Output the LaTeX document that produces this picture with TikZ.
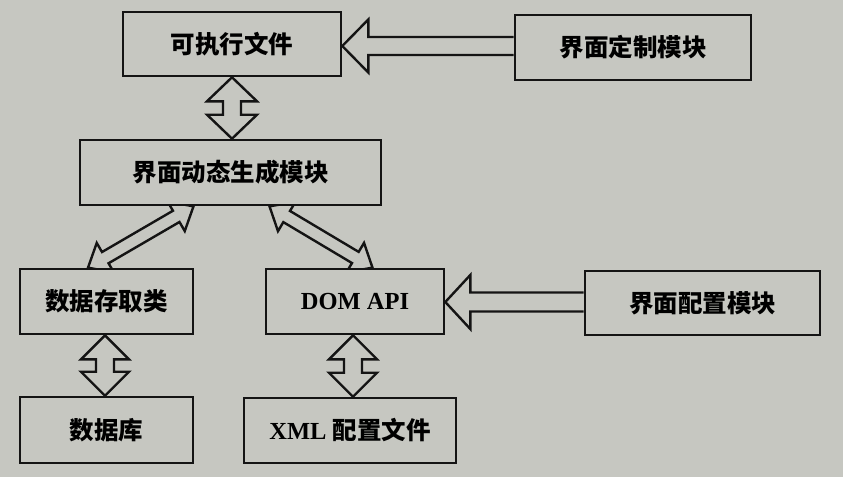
\documentclass[tikz,border=0pt]{standalone}
\usepackage{fontspec}
\setmainfont{Liberation Serif}
\newfontfamily\cjk{Noto Sans CJK SC}
\usetikzlibrary{calc}
\definecolor{bg}{RGB}{198,199,193}
\definecolor{ink}{RGB}{20,20,20}
\pgfdeclarelayer{bottom}
\pgfdeclarelayer{arrows}
\pgfsetlayers{bottom,arrows,main}

% double fat arrow: from #1 to #2, shaft half width #3, head half width #4, head length #5
\newcommand\fatdouble[5]{%
  \draw[fatarrow] let \p1=(#1), \p2=(#2),
     \n1={atan2(\y2-\y1,\x2-\x1)}, \n2={veclen(\x2-\x1,\y2-\y1)} in
     (\p1)
     -- ($(\p1)+(\n1:#5pt)+(\n1+90:#4pt)$)
     -- ($(\p1)+(\n1:#5pt)+(\n1+90:#3pt)$)
     -- ($(\p1)+(\n1:{\n2-#5pt})+(\n1+90:#3pt)$)
     -- ($(\p1)+(\n1:{\n2-#5pt})+(\n1+90:#4pt)$)
     -- (\p2)
     -- ($(\p1)+(\n1:{\n2-#5pt})+(\n1-90:#4pt)$)
     -- ($(\p1)+(\n1:{\n2-#5pt})+(\n1-90:#3pt)$)
     -- ($(\p1)+(\n1:#5pt)+(\n1-90:#3pt)$)
     -- ($(\p1)+(\n1:#5pt)+(\n1-90:#4pt)$)
     -- cycle;}

% single fat arrow: tail #1, tip #2
\newcommand\fatsingle[5]{%
  \draw[fatarrow] let \p1=(#1), \p2=(#2),
     \n1={atan2(\y2-\y1,\x2-\x1)}, \n2={veclen(\x2-\x1,\y2-\y1)} in
     ($(\p1)+(\n1+90:#3pt)$)
     -- ($(\p1)+(\n1:{\n2-#5pt})+(\n1+90:#3pt)$)
     -- ($(\p1)+(\n1:{\n2-#5pt})+(\n1+90:#4pt)$)
     -- (\p2)
     -- ($(\p1)+(\n1:{\n2-#5pt})+(\n1-90:#4pt)$)
     -- ($(\p1)+(\n1:{\n2-#5pt})+(\n1-90:#3pt)$)
     -- ($(\p1)+(\n1-90:#3pt)$);}

\begin{document}
\begin{tikzpicture}[x=1pt,y=1pt,
  box/.style={draw=ink, fill=bg, line width=2.6pt, inner sep=0pt,
              font=\fontsize{24.5}{28}\selectfont\bfseries},
  fatarrow/.style={draw=ink, fill=bg, line width=2.4pt, line join=miter}]
\useasboundingbox (0,0) rectangle (843,-477);
\begin{pgfonlayer}{bottom}
\fill[bg] (0,0) rectangle (843,-477);
\end{pgfonlayer}

\node[box, minimum width=218pt, minimum height=64pt] (A) at (232,-44) {\cjk 可执行文件};
\node[box, minimum width=236pt, minimum height=65pt] (B) at (633,-47.5) {\cjk 界面定制模块};
\node[box, minimum width=301pt, minimum height=65pt] (C) at (230.5,-172.5) {\cjk 界面动态生成模块};
\node[box, minimum width=173pt, minimum height=65pt] (D) at (106.5,-301.5) {\cjk 数据存取类};
\node[box, minimum width=178pt, minimum height=65pt] (E) at (355,-301.5) {DOM API};
\node[box, minimum width=235pt, minimum height=64pt] (F) at (702.5,-303) {\cjk 界面配置模块};
\node[box, minimum width=173pt, minimum height=66pt] (G) at (106.5,-430) {\cjk 数据库};
\node[box, minimum width=212pt, minimum height=65pt] (H) at (350,-430.5) {XML {\cjk 配置文件}};

\coordinate (ba1) at ([yshift=1.5pt]B.west);
\coordinate (ba2) at (ba1 -| A.east);
\coordinate (ac1) at (A.south);
\coordinate (ac2) at (ac1 |- C.north);
\coordinate (cd1) at ([xshift=-37pt]C.south);
\coordinate (cd2) at ([xshift=-18.5pt]D.north);
\coordinate (ce1) at ([xshift=39pt]C.south);
\coordinate (ce2) at ([xshift=17.5pt]E.north);
\coordinate (fe1) at ([yshift=1pt]F.west);
\coordinate (fe2) at (fe1 -| E.east);
\coordinate (dg1) at ([xshift=-1.5pt]D.south);
\coordinate (dg2) at (dg1 |- G.north);
\coordinate (eh1) at ([xshift=-2pt]E.south);
\coordinate (eh2) at (eh1 |- H.north);

\begin{pgfonlayer}{arrows}
\fatsingle{ba1}{ba2}{9}{26.5}{26}
\fatsingle{fe1}{fe2}{9.5}{27}{25}
\fatdouble{ac1}{ac2}{9}{25}{24}
\fatdouble{dg1}{dg2}{9}{24}{24}
\fatdouble{eh1}{eh2}{9}{24}{24}
\fatdouble{cd1}{cd2}{6.5}{17}{20}
\fatdouble{ce1}{ce2}{6.5}{17}{20}
\end{pgfonlayer}
\end{tikzpicture}
\end{document}
